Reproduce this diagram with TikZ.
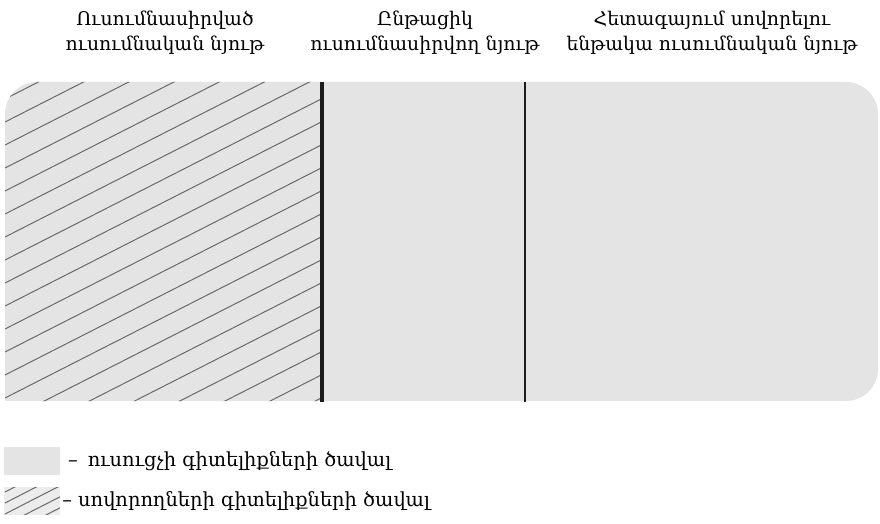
\documentclass[tikz,border=0pt]{standalone}
\usepackage{fontspec}
\setmainfont{DejaVu Serif}
\usepackage{tikz}
\usetikzlibrary{positioning}
\definecolor{panelgray}{HTML}{E4E4E4}
\definecolor{hatchgray}{HTML}{686868}
\definecolor{rulegray}{HTML}{1C1C1C}
\tikzset{
  headtext/.style={
    font=\fontsize{13.4}{18}\selectfont, align=center,
    inner sep=0pt
  },
  keytext/.style={
    font=\fontsize{13.8}{18}\selectfont, anchor=west,
    inner sep=0pt
  },
  keybox/.style={
    rectangle, fill=#1, draw=none,
    minimum width=1.375cm, minimum height=0.675cm,
    inner sep=0pt
  },
  keybox/.default=panelgray,
  hatchline/.style={
    draw=hatchgray, line width=0.7pt
  },
  divider/.style={
    draw=rulegray, line width=#1
  },
  divider/.default=1.5pt,
}

\begin{document}
\begin{tikzpicture}[x=0.025cm, y=-0.025cm]
  \useasboundingbox (0,0) rectangle (880,524);

  % the three parts of the panel
  \fill[panelgray] (5,240) [rounded corners=0.8cm] -- (5,82) -- (878,82)
    -- (878,401) [sharp corners] -- (5,401) -- cycle;
  \begin{scope}
    \clip (5,240) [rounded corners=0.8cm] -- (5,82) -- (878,82)
      -- (878,401) [sharp corners] -- (5,401) -- cycle;
    \clip (5,82) rectangle (322,401);
    \foreach \k in {-4,...,23}
      \draw[hatchline] (5,{122+23*\k}) -- ++(440,-224);
  \end{scope}
  \draw[divider=2.2pt] (322,82) -- (322,402);
  \draw[divider=1.5pt] (525,82) -- (525,402);

  \node[headtext] (studied) at (165,33) {Ուսումնասիրված\\ուսումնական նյութ};
  \node[headtext] (current) at (425,33) {Ընթացիկ\\ուսումնասիրվող նյութ};
  \node[headtext] (future) at (712,33) {Հետագայում սովորելու\\ենթակա ուսումնական նյութ};

  % legend
  \node[keybox] (keyteacher) at (32,461) {};
  \node[keybox=panelgray!70] (keypupil) at (32,501) {};
  \begin{scope}
    \clip (keypupil.south west) rectangle (keypupil.north east);
    \foreach \k in {-1,...,8}
      \draw[hatchline] (5,{492+11*\k}) -- ++(80,-41);
  \end{scope}
  \node[keytext, right=0.2cm of keyteacher] (teachertext) {–\hspace{0.25cm}ուսուցչի գիտելիքների ծավալ};
  \node[keytext, right=0.06cm of keypupil] (pupiltext) {–\hspace{0.15cm}սովորողների գիտելիքների ծավալ};
\end{tikzpicture}
\end{document}
